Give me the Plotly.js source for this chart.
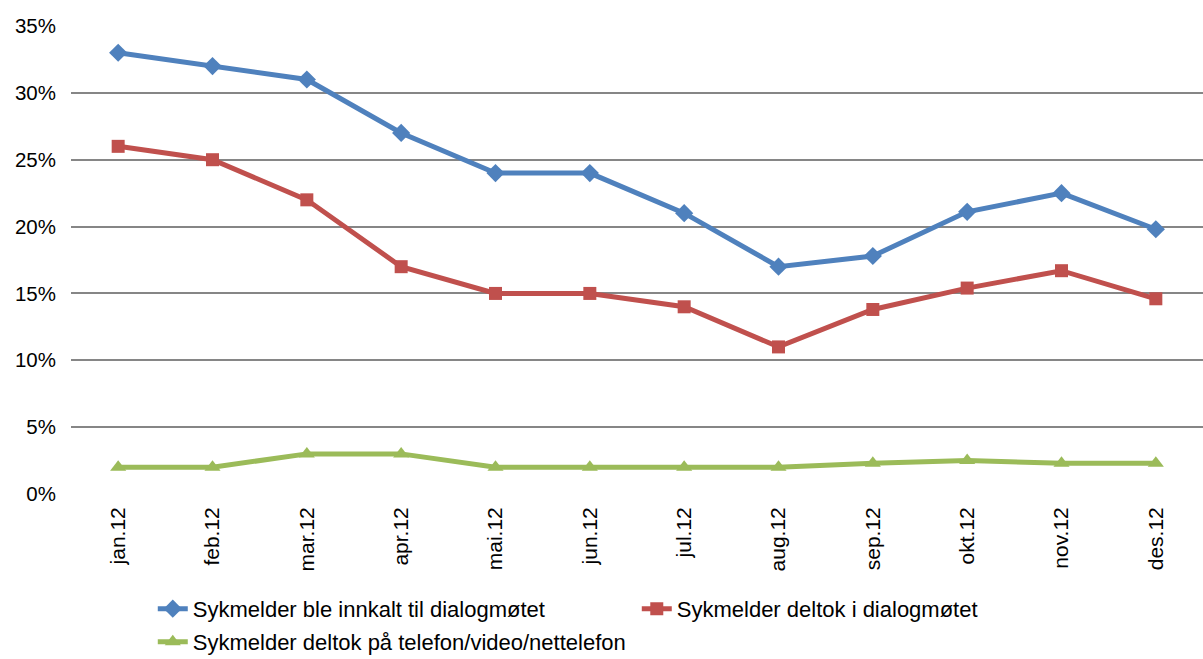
<!DOCTYPE html>
<html>
<head>
<meta charset="utf-8">
<script src="https://cdn.plot.ly/plotly-3.0.1.min.js"></script>
<style>html,body{margin:0;padding:0;background:#fff;}#chart{width:1203px;height:659px;}</style>
</head>
<body>
<div id="chart"></div>
<script>
const months = ["jan.12","feb.12","mar.12","apr.12","mai.12","jun.12","jul.12","aug.12","sep.12","okt.12","nov.12","des.12"];
const innkalt = [0.33,0.32,0.31,0.27,0.24,0.24,0.21,0.17,0.178,0.211,0.225,0.198];
const deltok = [0.26,0.25,0.22,0.17,0.15,0.15,0.14,0.11,0.138,0.154,0.167,0.146];
const telefon = [0.02,0.02,0.03,0.03,0.02,0.02,0.02,0.02,0.023,0.025,0.023,0.023];
const names = ["Sykmelder ble innkalt til dialogmøtet","Sykmelder deltok i dialogmøtet","Sykmelder deltok på telefon/video/nettelefon"];

const traces = [
  {x: months, y: innkalt, name: names[0], type: 'scatter', mode: 'lines+markers', legend: 'legend',
   line: {color: '#4F81BD', width: 5}, marker: {symbol: 'diamond', size: 14, color: '#4F81BD'}},
  {x: months, y: deltok, name: names[1], type: 'scatter', mode: 'lines+markers', legend: 'legend',
   line: {color: '#C0504D', width: 5}, marker: {symbol: 'square', size: 13, color: '#C0504D'}},
  {x: months, y: telefon, name: names[2], type: 'scatter', mode: 'lines+markers', legend: 'legend2',
   line: {color: '#9BBB59', width: 5}, marker: {symbol: 'triangle-up', size: 14, color: '#9BBB59'}}
];

const legendCommon = {orientation: 'h', xref: 'container', yref: 'container',
  xanchor: 'left', yanchor: 'middle', entrywidth: 439, entrywidthmode: 'pixels',
  font: {size: 22}, tracegroupgap: 0, bgcolor: 'rgba(0,0,0,0)', borderwidth: 0};

const layout = {
  width: 1203, height: 659,
  margin: {l: 71, r: 0, t: 26, b: 165},
  paper_bgcolor: '#fff', plot_bgcolor: '#fff',
  font: {family: 'Liberation Sans, Arial, sans-serif', size: 20, color: '#000'},
  xaxis: {type: 'category', range: [-0.5, 11.5], tickangle: -90, showgrid: false,
          zeroline: false, showline: false, ticks: '', ticklabelstandoff: 8,
          automargin: false, tickfont: {size: 21}},
  yaxis: {range: [0, 0.35], dtick: 0.05, tickformat: '.0%', showgrid: true,
          gridcolor: '#868686', gridwidth: 2, zeroline: false, showline: false,
          ticks: '', ticklabelstandoff: 14, automargin: false, tickfont: {size: 20.5}},
  showlegend: true,
  legend: Object.assign({}, legendCommon, {x: 0.127, y: 0.076}),
  legend2: Object.assign({}, legendCommon, {x: 0.127, y: 0.026})
};

Plotly.newPlot('chart', traces, layout, {displayModeBar: false, staticPlot: true});
</script>
</body>
</html>
